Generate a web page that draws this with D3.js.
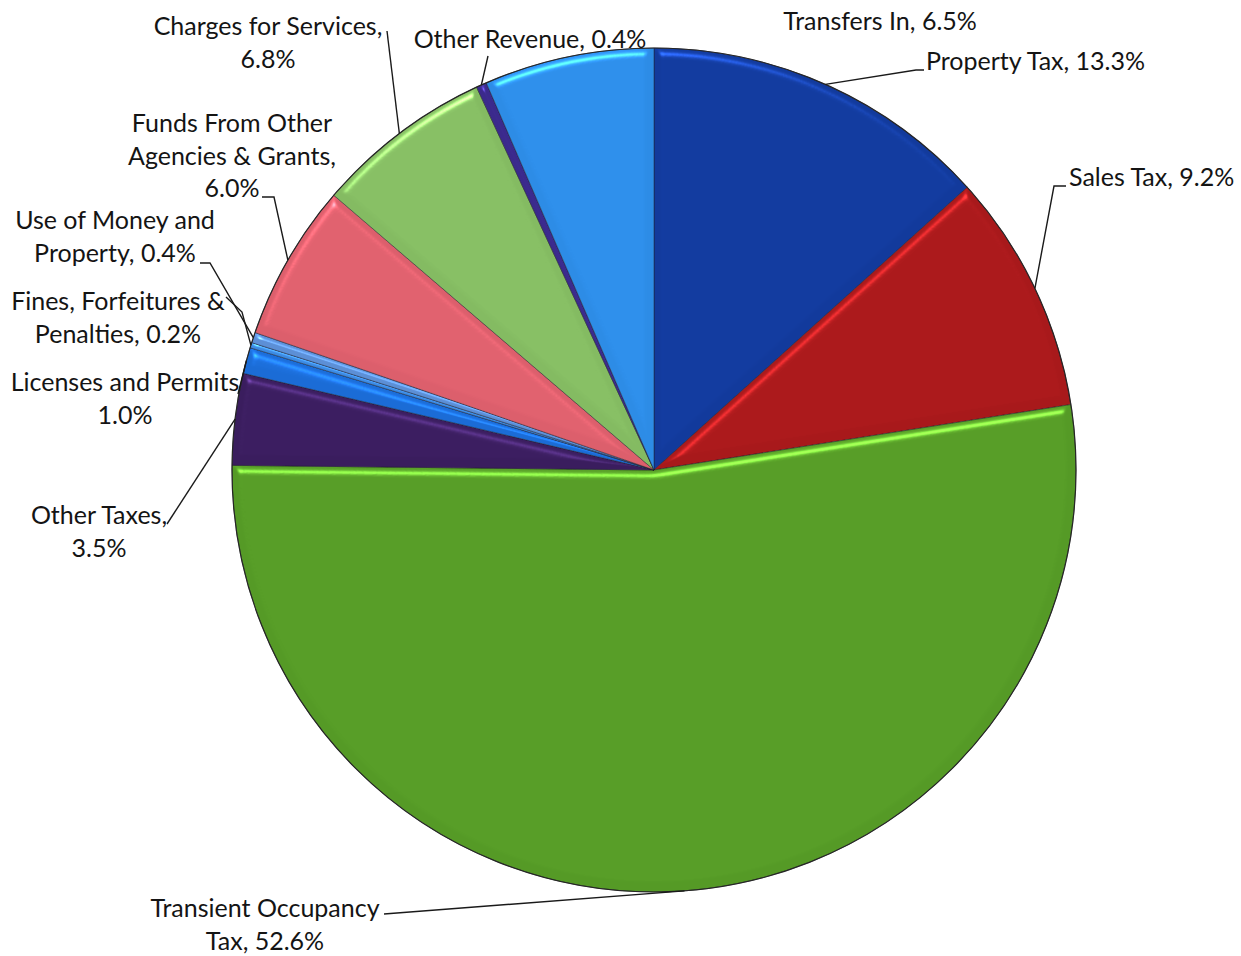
<!DOCTYPE html>
<html>
<head>
<meta charset="utf-8">
<script src="https://cdn.jsdelivr.net/npm/d3@7"></script>
<style>
  html, body { margin: 0; padding: 0; background: #ffffff; }
  svg { display: block; }
  text { font-family: Lato, "Open Sans", sans-serif; font-size: 25px; fill: #141414; }
</style>
</head>
<body>
<svg id="chart" width="1241" height="956"></svg>
<script>
// Revenue categories, clockwise from 12 o'clock
const categories = [
  "Property Tax", "Sales Tax", "Transient Occupancy Tax", "Other Taxes",
  "Licenses and Permits", "Fines, Forfeitures & Penalties", "Use of Money and Property",
  "Funds From Other Agencies & Grants", "Charges for Services", "Other Revenue", "Transfers In"
];
// Share of total revenue, percent
const shares = [13.3, 9.2, 52.6, 3.5, 1.0, 0.2, 0.4, 6.0, 6.8, 0.4, 6.5];
// Label lines as printed beside each slice
const labelLines = [
  ["Property Tax, 13.3%"],
  ["Sales Tax, 9.2%"],
  ["Transient Occupancy", "Tax, 52.6%"],
  ["Other Taxes,", "3.5%"],
  ["Licenses and Permits", "1.0%"],
  ["Fines, Forfeitures &", "Penalties, 0.2%"],
  ["Use of Money and", "Property, 0.4%"],
  ["Funds From Other", "Agencies & Grants,", "6.0%"],
  ["Charges for Services,", "6.8%"],
  ["Other Revenue, 0.4%"],
  ["Transfers In, 6.5%"]
];
const sliceColors = [
  "#123a9c", "#a8191b", "#559a26", "#3a1d5e", "#1b6cd6", "#3d8be2",
  "#5c8fd6", "#dc5f6c", "#84bb62", "#3b2a8c", "#2d8ce6"
];

// Label placement: text anchor point, and the elbow of its leader (null = no leader)
const labelLayout = [
  { x: 926,  y: 64,  anchor: "start",  lead: [[924, 70], [916, 70]] },
  { x: 1069, y: 180, anchor: "start",  lead: [[1066, 186], [1054, 186]] },
  { x: 265,  y: 911, anchor: "middle", lead: [[384, 914]] },
  { x: 99,   y: 518, anchor: "middle", lead: [[167, 524]] },
  { x: 125,  y: 385, anchor: "middle", lead: [[238, 394]] },
  { x: 118,  y: 304, anchor: "middle", lead: [[226, 297], [242, 312]] },
  { x: 115,  y: 223, anchor: "middle", lead: [[200, 263], [210, 263]] },
  { x: 232,  y: 126, anchor: "middle", lead: [[262, 197], [274, 197]] },
  { x: 268,  y: 29,  anchor: "middle", lead: [[387, 31]] },
  { x: 530,  y: 42,  anchor: "middle", lead: [[488, 56]] },
  { x: 880,  y: 24,  anchor: "middle", lead: null }
];

const cx = 654, cy = 470, radius = 422, lineHeight = 32.5;

const svg = d3.select("#chart");
const defs = svg.append("defs");

// Soft bevel: specular light from above catches the upward-facing slice edges
const bevel = defs.append("filter").attr("id", "bevel")
  .attr("color-interpolation-filters", "sRGB")
  .attr("x", "-5%").attr("y", "-5%").attr("width", "110%").attr("height", "110%");
bevel.append("feGaussianBlur").attr("in", "SourceAlpha").attr("stdDeviation", 4).attr("result", "blur");
const spec = bevel.append("feSpecularLighting").attr("in", "blur")
  .attr("surfaceScale", 7).attr("specularConstant", 0.8).attr("specularExponent", 30)
  .attr("lighting-color", "#ffffff").attr("result", "spec");
spec.append("feDistantLight").attr("azimuth", 255).attr("elevation", 35);
bevel.append("feComposite").attr("in", "spec").attr("in2", "SourceAlpha").attr("operator", "in").attr("result", "specIn");
bevel.append("feComposite").attr("in", "SourceGraphic").attr("in2", "specIn")
  .attr("operator", "arithmetic").attr("k1", 0.9).attr("k2", 1).attr("k3", 0.12).attr("k4", 0);

const pie = d3.pie().sort(null).value(d => d).startAngle(0).endAngle(2 * Math.PI);
const arcs = pie(shares);
const arc = d3.arc().innerRadius(0).outerRadius(radius);

const g = svg.append("g").attr("transform", `translate(${cx},${cy})`);

g.selectAll("path.slice")
  .data(arcs)
  .join("path")
  .attr("class", "slice")
  .attr("d", arc)
  .attr("fill", (d, i) => sliceColors[i])
  .attr("stroke", "#1d1d2a")
  .attr("stroke-width", 0.8)
  .attr("stroke-opacity", 0.6)
  .attr("filter", "url(#bevel)");

// Outer rim
g.append("circle").attr("r", radius).attr("fill", "none")
  .attr("stroke", "#262626").attr("stroke-width", 1.2);

// Point on the rim at the middle of a slice
function rimPoint(d) {
  const a = (d.startAngle + d.endAngle) / 2;
  return [cx + radius * Math.sin(a), cy - radius * Math.cos(a)];
}

// Leader lines
const lineGen = d3.line();
arcs.forEach((d, i) => {
  const lay = labelLayout[i];
  if (!lay.lead) return;
  const pts = lay.lead.concat([rimPoint(d)]);
  svg.append("path")
    .attr("d", lineGen(pts))
    .attr("fill", "none")
    .attr("stroke", "#1a1a1a")
    .attr("stroke-width", 1.4);
});

// Labels
arcs.forEach((d, i) => {
  const lay = labelLayout[i];
  const t = svg.append("text")
    .attr("text-anchor", lay.anchor)
    .attr("x", lay.x)
    .attr("y", lay.y)
    .attr("dominant-baseline", "middle");
  labelLines[i].forEach((s, k) => {
    t.append("tspan").attr("x", lay.x).attr("dy", k === 0 ? 0 : lineHeight).text(s);
  });
});
</script>
</body>
</html>
